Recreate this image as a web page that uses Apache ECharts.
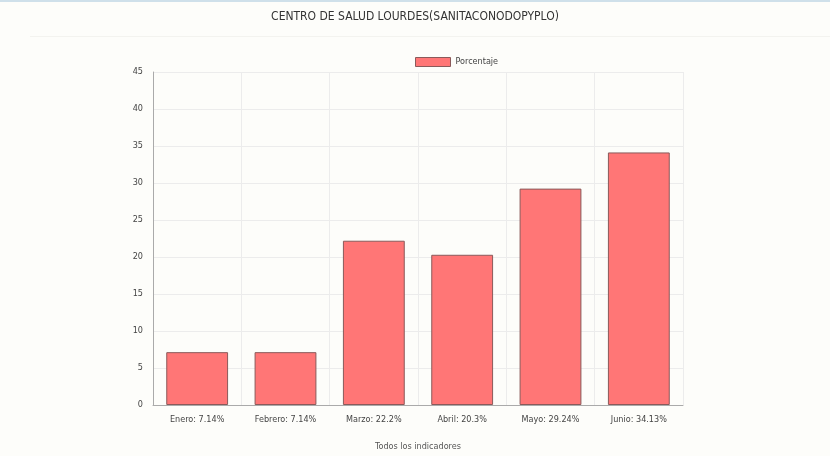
<!DOCTYPE html>
<html>
<head>
<meta charset="utf-8">
<script src="https://cdn.jsdelivr.net/npm/echarts@6/dist/echarts.min.js"></script>
<style>
  html, body { margin: 0; padding: 0; background: #fdfdfa; }
  #top { height: 2px; background: #cfe0ea; }
  #sep { position: absolute; left: 30px; right: 0; top: 36px; height: 1px; background: #f3f3ef; }
  #chart { width: 830px; height: 454px; }
</style>
</head>
<body>
<div id="top"></div>
<div id="chart"></div>
<div id="sep"></div>
<script>
// datos
var meses = ['Enero: 7.14%', 'Febrero: 7.14%', 'Marzo: 22.2%', 'Abril: 20.3%', 'Mayo: 29.24%', 'Junio: 34.13%']
var porcentaje = [7.14, 7.14, 22.2, 20.3, 29.24, 34.13]
var ticksY = [0, 5, 10, 15, 20, 25, 30, 35, 40, 45]

var chart = echarts.init(document.getElementById('chart'))

var option = {
  backgroundColor: '#fdfdfa',
  animation: false,
  title: {
    text: 'CENTRO DE SALUD LOURDES(SANITACONODOPYPLO)',
    left: 'center',
    top: 4,
    textStyle: {
      fontFamily: 'Liberation Sans Narrow, DejaVu Sans Condensed, sans-serif',
      fontSize: 12,
      fontWeight: 'normal',
      color: '#333'
    }
  },
  legend: {
    top: 50,
    left: 410,
    icon: 'rect',
    itemWidth: 35,
    itemHeight: 9,
    itemStyle: { borderColor: '#8a5a5a', borderWidth: 1 },
    textStyle: { fontSize: 9, color: '#444', fontFamily: 'DejaVu Sans Condensed, sans-serif' },
    data: ['Porcentaje']
  },
  grid: {
    left: 153,
    right: 147,
    top: 70,
    bottom: 46
  },
  xAxis: {
    type: 'category',
    data: meses,
    name: 'Todos los indicadores',
    nameLocation: 'middle',
    nameGap: 37,
    nameTextStyle: { fontSize: 9, color: '#555', fontFamily: 'DejaVu Sans Condensed, sans-serif' },
    axisLine: { lineStyle: { color: '#aaa' } },
    axisTick: { show: false },
    axisLabel: { fontSize: 9, color: '#444', margin: 10, fontFamily: 'DejaVu Sans Condensed, sans-serif' },
    splitLine: { show: true, lineStyle: { color: '#ececec' } }
  },
  yAxis: {
    type: 'value',
    min: ticksY[0],
    max: ticksY[ticksY.length - 1],
    interval: 5,
    axisLine: { show: true, lineStyle: { color: '#aaa' } },
    axisTick: { show: false },
    axisLabel: { fontSize: 9, color: '#444', margin: 10, fontFamily: 'DejaVu Sans Condensed, sans-serif' },
    splitLine: { lineStyle: { color: '#ececec' } }
  },
  series: [
    {
      name: 'Porcentaje',
      type: 'bar',
      data: porcentaje,
      barWidth: '70%',
      itemStyle: {
        color: '#ff7676',
        borderColor: '#8a5a5a',
        borderWidth: 1
      }
    }
  ]
}
chart.setOption(option)
</script>
</body>
</html>
